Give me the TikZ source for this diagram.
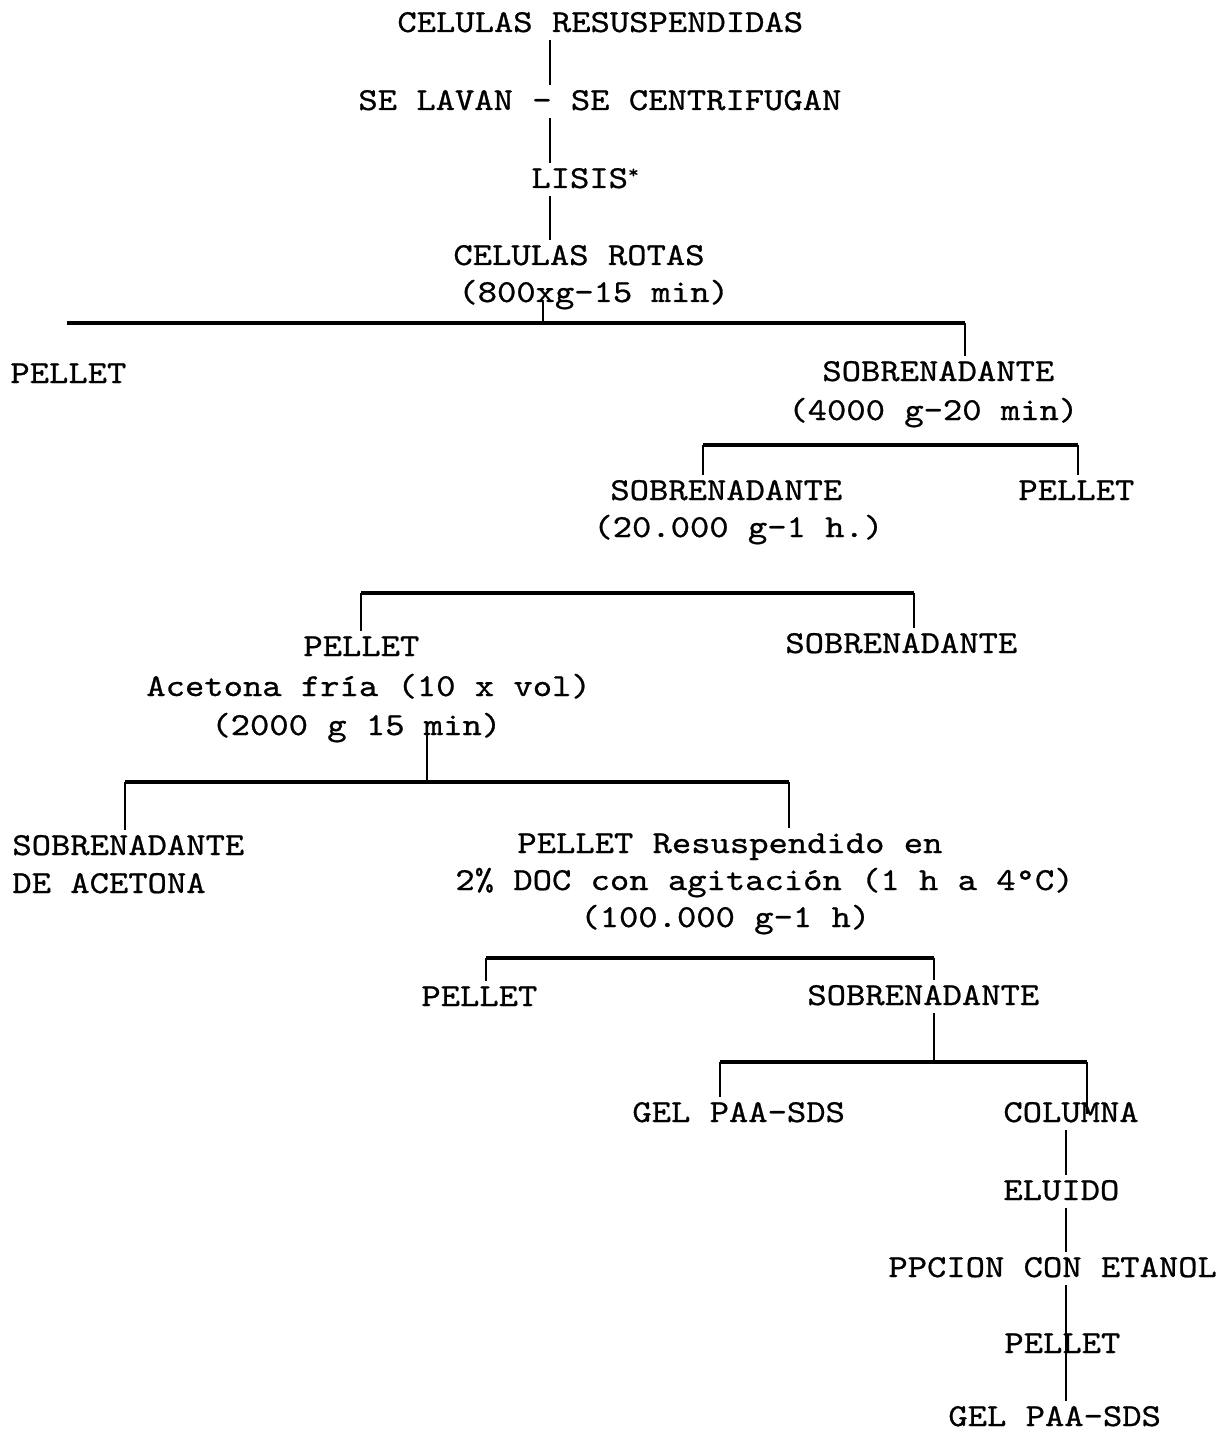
\documentclass[tikz,border=0pt]{standalone}
\usepackage{fontspec}
\setmonofont[FakeStretch=1.15, FakeBold=0.8]{lmmono10-regular.otf}

\begin{document}
\begin{tikzpicture}[x=0.5pt, y=-0.5pt,
	txt/.style = {anchor=base west, inner xsep=0pt, inner ysep=3pt, text height=9.5pt, text depth=1pt, font=\ttfamily\fontsize{16}{19}\selectfont},
	tronco/.style = {line width=1pt},
	rama/.style = {line width=1.8pt}]
		\useasboundingbox (0,0) rectangle (1231,1433);
		% Textos
		\node[txt] (resusp) at (397,32) {CELULAS RESUSPENDIDAS};
		\node[txt] (lavan) at (358,110) {SE LAVAN - SE CENTRIFUGAN};
		\node[txt] (lisis) at (531,188) {LISIS\raisebox{5pt}{\fontsize{9}{9}\selectfont *}};
		\node[txt] (rotas) at (453,265) {CELULAS ROTAS};
		\node[txt] (rotasg) at (458,302) {(800xg-15 min)};
		\node[txt] (pelletA) at (10,383) {PELLET};
		\node[txt] (sobreA) at (822,381) {SOBRENADANTE};
		\node[txt] (sobreAg) at (788,420) {(4000 g-20 min)};
		\node[txt] (sobreB) at (610,500) {SOBRENADANTE};
		\node[txt] (pelletB) at (1018,500) {PELLET};
		\node[txt] (sobreBg) at (593,537) {(20.000 g-1 h.)};
		\node[txt] (pelletC) at (303,656) {PELLET};
		\node[txt] (sobreC) at (785,653) {SOBRENADANTE};
		\node[txt] (acetona) at (146,696) {Acetona fría (10 x vol)};
		\node[txt] (acetonag) at (211,735) {(2000 g 15 min)};
		\node[txt] (sobreD) at (12,855) {SOBRENADANTE};
		\node[txt] (sobreDb) at (12,893) {DE ACETONA};
		\node[txt] (pelletD) at (517,853) {PELLET Resuspendido en};
		\node[txt] (pelletDb) at (455,890) {2\% DOC con agitación (1 h a 4°C)};
		\node[txt] (pelletDg) at (580,927) {(100.000 g-1 h)};
		\node[txt] (pelletE) at (421,1006) {PELLET};
		\node[txt] (sobreE) at (807,1005) {SOBRENADANTE};
		\node[txt] (gelA) at (632,1122) {GEL PAA-SDS};
		\node[txt] (columna) at (1003,1122) {COLUMNA};
		\node[txt] (eluido) at (1003,1200) {ELUIDO};
		\node[txt] (ppcion) at (888,1277) {PPCION CON ETANOL};
		\node[txt] (pelletF) at (1004,1353) {PELLET};
		\node[txt] (gelB) at (948,1426) {GEL PAA-SDS};
		% Puntos de las ramas
		\coordinate (t1) at (550,0);
		\coordinate (r1i) at (67,323);
		\coordinate (r1m) at (543,323);
		\coordinate (r1d) at (965,323);
		\coordinate (r2i) at (703,445);
		\coordinate (r2d) at (1078,445);
		\coordinate (r3i) at (361,593);
		\coordinate (r3d) at (914,593);
		\coordinate (r4i) at (125,782);
		\coordinate (r4m) at (427,782);
		\coordinate (r4d) at (789,782);
		\coordinate (r5i) at (486,958);
		\coordinate (r5d) at (934,958);
		\coordinate (r6i) at (720,1062);
		\coordinate (r6m) at (934,1062);
		\coordinate (r6d) at (1087,1062);
		\coordinate (t2) at (1066,0);
		% Lineas
		\draw[tronco] (resusp.south -| t1) -- (lavan.north -| t1);	% resusp-lavan
		\draw[tronco] (lavan.south -| t1) -- (lisis.north -| t1);	% lavan-lisis
		\draw[tronco] (lisis.south -| t1) -- (rotas.north -| t1);	% lisis-rotas
		\draw[tronco] (rotasg.base -| r1m) -- (r1m);			% 800 g
		\draw[rama] (r1i) -- (r1d);
		\draw[tronco] (r1d) -- (r1d |- sobreA.north);			% sobreA
		\draw[rama] (r2i) -- (r2d);
		\draw[tronco] (r2i) -- (r2i |- sobreB.north);			% sobreB
		\draw[tronco] (r2d) -- (r2d |- pelletB.north);			% pelletB
		\draw[rama] (r3i) -- (r3d);
		\draw[tronco] (r3i) -- (r3i |- pelletC.north);			% pelletC
		\draw[tronco] (r3d) -- (r3d |- sobreC.north);			% sobreC
		\draw[tronco] (acetonag.base -| r4m) -- (r4m);			% 2000 g
		\draw[rama] (r4i) -- (r4d);
		\draw[tronco] (r4i) -- (r4i |- sobreD.north);			% sobreD
		\draw[tronco] (r4d) -- (r4d |- pelletD.north);			% pelletD
		\draw[rama] (r5i) -- (r5d);
		\draw[tronco] (r5i) -- (r5i |- pelletE.north);			% pelletE
		\draw[tronco] (r5d) -- (r5d |- sobreE.north);			% sobreE
		\draw[tronco] (sobreE.south -| r6m) -- (r6m);			% sobreE
		\draw[rama] (r6i) -- (r6d);
		\draw[tronco] (r6i) -- (r6i |- gelA.north);			% gelA
		\draw[tronco] (r6d) -- (r6d |- columna.center);			% columna
		\draw[tronco] (columna.south -| t2) -- (eluido.north -| t2);	% columna-eluido
		\draw[tronco] (eluido.south -| t2) -- (ppcion.north -| t2);	% eluido-ppcion
		\draw[tronco] (ppcion.south -| t2) -- (pelletF.center -| t2) -- (gelB.north -| t2);	% ppcion-pelletF-gelB
\end{tikzpicture}
\end{document}
